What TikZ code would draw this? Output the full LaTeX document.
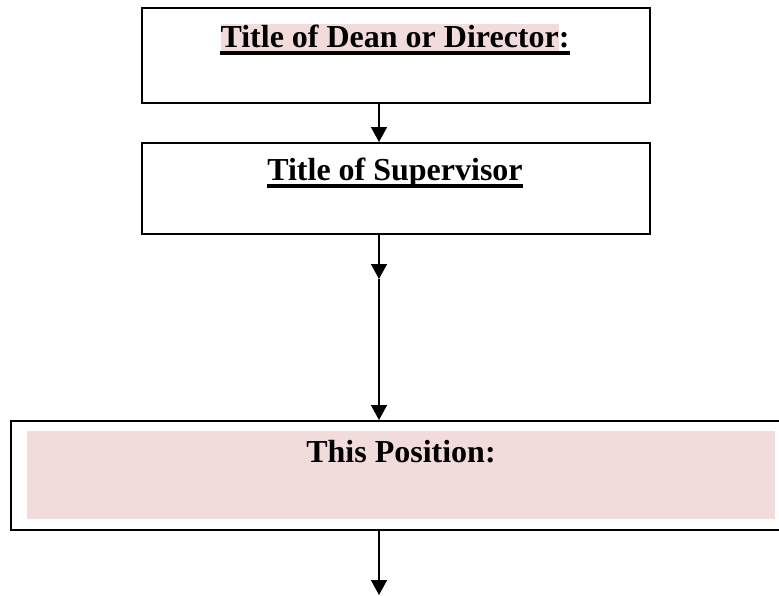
\documentclass[tikz,border=0pt]{standalone}
\usepackage{fontspec}
\setmainfont{Liberation Serif}
\usetikzlibrary{arrows.meta}
\definecolor{pinkbg}{HTML}{F2DBDB}
\setlength{\fboxsep}{0pt}
\begin{document}
\begin{tikzpicture}[x=1pt,y=-1pt,
  box/.style={draw, line width=2pt, inner sep=0pt, anchor=north west},
  ttl/.style={font=\fontsize{32}{38}\selectfont\bfseries, inner sep=0pt, anchor=base},
  arr/.style={line width=1.6pt, -{Triangle[width=16pt,length=15pt]}},
  uline/.style={line width=3.5pt}]
\useasboundingbox (0,0) rectangle (779,595);
\clip (0,0) rectangle (779,595);
% boxes
\node[box, minimum width=508, minimum height=95] (dean) at (141,7) {};
\node[box, minimum width=508, minimum height=91] (sup) at (141,142) {};
\node[box, minimum width=790, minimum height=109] (pos) at (10,420) {};
\node[fill=pinkbg, inner sep=0pt, anchor=north west, minimum width=748, minimum height=88] (posfill) at (27,431) {};
% texts
\node[ttl] (deantitle) at (395,47) {\colorbox{pinkbg}{\rule[-6pt]{0pt}{29pt}Title of Dean or Director}:};
\draw[uline] ([yshift=-6pt]deantitle.base west) -- ([yshift=-6pt]deantitle.base east);
\node[ttl] (suptitle) at (395,180) {Title of Supervisor};
\draw[uline] ([yshift=-6pt]suptitle.base west) -- ([yshift=-6pt]suptitle.base east);
\node[ttl] (postitle) at (401,462) {This Position:};
% connectors
\coordinate (xline) at (379,0);
\coordinate (mid) at (379,279);
\coordinate (endpt) at (379,595);
\draw[arr] (dean.south -| xline) -- (sup.north -| xline);
\draw[arr] (sup.south -| xline) -- (mid);
\draw[arr] (mid) -- (pos.north -| xline);
\draw[arr] (pos.south -| xline) -- (endpt);
\end{tikzpicture}
\end{document}
